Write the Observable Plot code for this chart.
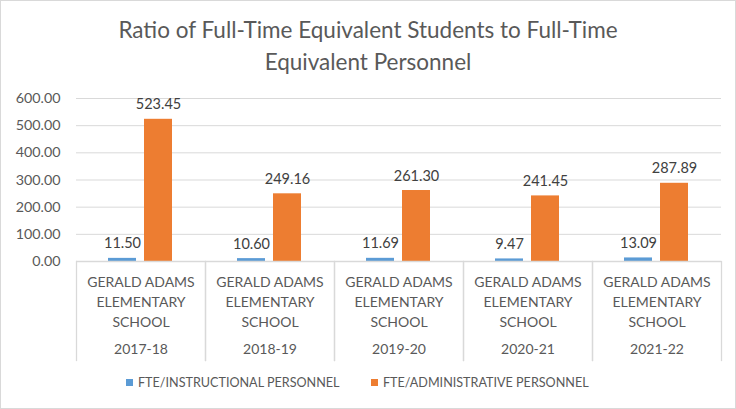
<!DOCTYPE html>
<html><head><meta charset="utf-8">
<script src="https://cdn.jsdelivr.net/npm/d3@7"></script>
<script src="https://cdn.jsdelivr.net/npm/@observablehq/plot@0.6"></script>
<style>
body{margin:0;background:#fff;font-family:Lato,"Open Sans",sans-serif;}
#wrap{position:relative;width:734px;height:407px;border:1px solid #d9d9d9;overflow:hidden;}
#title{height:79px;box-sizing:border-box;padding-top:13px;text-align:center;font-size:22.5px;line-height:32px;color:#595959;}
#legend{height:26px;}
.item{display:flex;align-items:center;position:absolute;top:374px;font-size:12.6px;color:#595959;}
.sw{width:7px;height:7px;margin-right:5px;}
svg{display:block}
</style></head>
<body><div id="wrap"><div id="title">Ratio of Full-Time Equivalent Students to Full-Time<br>Equivalent Personnel</div><div id="chart"></div><div id="legend"></div></div>
<script>
const years = ["2017-18","2018-19","2019-20","2020-21","2021-22"];
const school = "GERALD ADAMS\nELEMENTARY\nSCHOOL";
const seriesNames = ["FTE/INSTRUCTIONAL PERSONNEL","FTE/ADMINISTRATIVE PERSONNEL"];
const instructional = [11.50,10.60,11.69,9.47,13.09];
const administrative = [523.45,249.16,261.30,241.45,287.89];
const colors = ["#5B9BD5","#ED7D31"];
const yTicks = [0,100,200,300,400,500,600];

const data = [];
years.forEach((yr,i)=>{
  data.push({year:yr, series:seriesNames[0], value:instructional[i]});
  data.push({year:yr, series:seriesNames[1], value:administrative[i]});
});

const plot = Plot.plot({
  width: 734, height: 290,
  marginTop: 18, marginBottom: 109, marginLeft: 74, marginRight: 13,
  style:{fontFamily:"Lato, 'Open Sans', sans-serif", fontSize:"14px", color:"#595959", background:"transparent"},
  fx:{domain:years, padding:0, label:null},
  x:{domain:seriesNames, paddingInner:0.22, paddingOuter:0.88, axis:null},
  y:{domain:[0,600], axis:null},
  color:{domain:seriesNames, range:colors},
  marks:[
    Plot.ruleY(yTicks.filter(t=>t>0), {stroke:"#d9d9d9", strokeWidth:1}),
    Plot.axisY({ticks:yTicks, tickFormat:d3.format(".2f"), tickSize:0, tickPadding:16, fontSize:14.3, fill:"#595959", label:null}),
    Plot.barY(data, {fx:"year", x:"series", y:"value", fill:"series"}),
    Plot.text(data, {fx:"year", x:"series", y:"value", text:d=>d3.format(".2f")(d.value), lineAnchor:"bottom", dy:-10, fill:"#404040", fontSize:14.5}),
    Plot.ruleY([0], {stroke:"#d9d9d9", strokeWidth:1.3}),
    Plot.frame({anchor:"left", stroke:"#d9d9d9", strokeWidth:1.3, insetTop:163, insetBottom:-99}),
    Plot.frame({anchor:"right", stroke:"#d9d9d9", strokeWidth:1.3, insetTop:163, insetBottom:-99}),
    Plot.axisFx({anchor:"bottom", tickFormat:()=>school, tickSize:0, tickPadding:12, lineHeight:1.4, fontSize:14, fill:"#595959", label:null}),
    Plot.axisFx({anchor:"bottom", tickFormat:d=>d, tickSize:0, tickPadding:83, fontSize:14, fill:"#595959", label:null})
  ]
});
document.getElementById("chart").appendChild(plot);

const legend = document.getElementById("legend");
const lx = [125, 370];
seriesNames.forEach((s,i)=>{
  const it = document.createElement("div");
  it.className="item"; it.style.left = lx[i]+"px";
  const sw = document.createElement("div"); sw.className="sw"; sw.style.background=colors[i];
  const t = document.createElement("span"); t.textContent=s;
  it.appendChild(sw); it.appendChild(t); legend.appendChild(it);
});
</script></body></html>
